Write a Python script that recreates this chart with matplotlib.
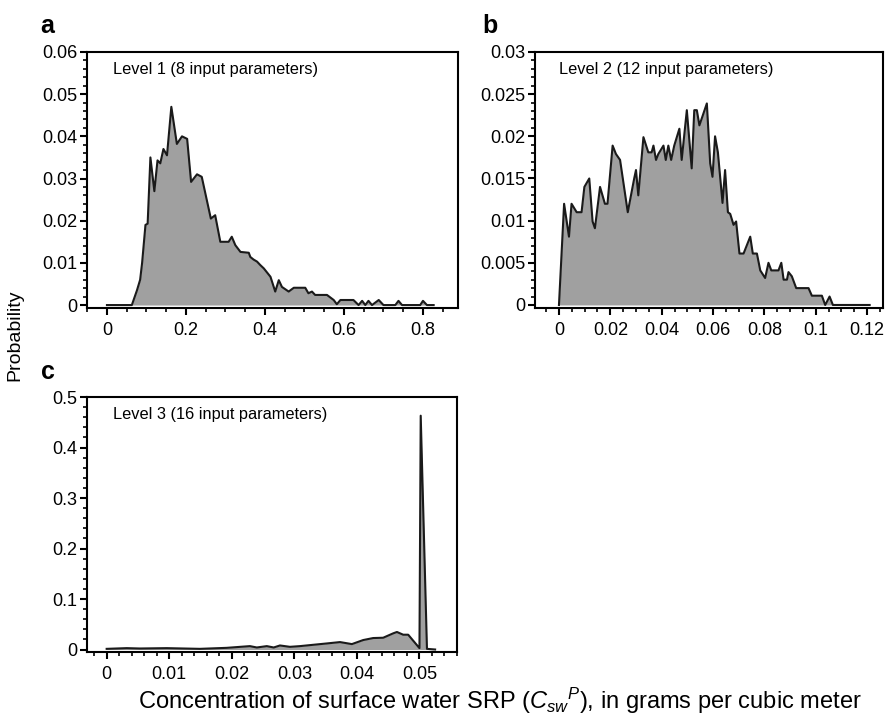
import matplotlib
matplotlib.use("Agg")
import matplotlib.pyplot as plt
from matplotlib.ticker import MultipleLocator, FuncFormatter

plt.rcParams['font.family'] = ['Liberation Sans', 'DejaVu Sans']
plt.rcParams['mathtext.fontset'] = 'custom'
plt.rcParams['mathtext.rm'] = 'Liberation Sans'
plt.rcParams['mathtext.it'] = 'Liberation Sans:italic'

# Level 1 (8 input parameters)
level1_x = [0, 0.063, 0.076, 0.084, 0.089, 0.0975, 0.103, 0.11, 0.12, 0.128, 0.135, 0.143,
            0.152, 0.163, 0.177, 0.19, 0.203, 0.213, 0.228, 0.24, 0.253, 0.263, 0.274, 0.287,
            0.308, 0.316, 0.325, 0.338, 0.359, 0.363, 0.371, 0.38, 0.388, 0.397, 0.414, 0.426,
            0.435, 0.443, 0.46, 0.473, 0.502, 0.51, 0.519, 0.527, 0.557, 0.574, 0.582, 0.591,
            0.624, 0.637, 0.646, 0.654, 0.662, 0.671, 0.688, 0.7, 0.73, 0.738, 0.747, 0.793,
            0.8, 0.81, 0.827]
level1_y = [0, 0, 0.0035, 0.006, 0.01, 0.019, 0.0193, 0.035, 0.027, 0.0343, 0.0336, 0.037,
            0.0355, 0.047, 0.0382, 0.04, 0.0394, 0.0292, 0.031, 0.0304, 0.0248, 0.0205, 0.0213,
            0.015, 0.015, 0.0162, 0.0142, 0.0126, 0.0124, 0.0114, 0.0108, 0.0103, 0.0095, 0.0087,
            0.0067, 0.0032, 0.0059, 0.0043, 0.0032, 0.0041, 0.0041, 0.0028, 0.0032, 0.0024,
            0.0024, 0.0012, 0.0002, 0.0012, 0.0012, 0, 0.001, 0, 0.001, 0, 0.0012, 0, 0, 0.001,
            0, 0, 0.001, 0, 0]

# Level 2 (12 input parameters)
level2_x = [0, 0.002, 0.0039, 0.0049, 0.0069, 0.0088, 0.0099, 0.0118, 0.0131, 0.014, 0.016,
            0.0179, 0.0189, 0.0209, 0.0222, 0.0238, 0.0268, 0.0293, 0.03, 0.0309, 0.0329,
            0.0348, 0.0361, 0.0368, 0.0378, 0.0387, 0.0407, 0.0416, 0.0426, 0.0437, 0.0449,
            0.0469, 0.0478, 0.0498, 0.0517, 0.0527, 0.0537, 0.0547, 0.0576, 0.0589, 0.0598,
            0.0608, 0.0619, 0.0637, 0.0647, 0.0658, 0.0667, 0.068, 0.069, 0.0703, 0.0719,
            0.0745, 0.0755, 0.0771, 0.0784, 0.0803, 0.0816, 0.0827, 0.0855, 0.0866, 0.0875,
            0.0888, 0.0894, 0.0907, 0.0924, 0.0972, 0.0985, 0.1024, 0.1037, 0.1054, 0.1067, 0.121]
level2_y = [0, 0.012, 0.0081, 0.012, 0.011, 0.011, 0.014, 0.015, 0.0099, 0.0091, 0.014, 0.012,
            0.012, 0.0189, 0.0179, 0.0172, 0.011, 0.015, 0.016, 0.013, 0.0199, 0.0181, 0.0181,
            0.0189, 0.0172, 0.0179, 0.0189, 0.0172, 0.0189, 0.0172, 0.0189, 0.0209, 0.0172,
            0.0231, 0.0162, 0.0231, 0.0231, 0.0213, 0.0239, 0.0168, 0.0152, 0.02, 0.0181,
            0.0121, 0.016, 0.011, 0.0108, 0.0095, 0.0099, 0.0061, 0.0061, 0.0081, 0.0061,
            0.0061, 0.0041, 0.0032, 0.005, 0.0041, 0.0041, 0.005, 0.003, 0.003, 0.0039, 0.0034,
            0.002, 0.002, 0.0011, 0.0011, 0, 0.001, 0, 0]

# Level 3 (16 input parameters)
level3_x = [0, 0.0032, 0.0053, 0.0096, 0.0149, 0.0192, 0.0229, 0.024, 0.0256, 0.0267, 0.0277,
            0.0293, 0.0309, 0.033, 0.0352, 0.0373, 0.0392, 0.041, 0.0426, 0.0442, 0.0458,
            0.0464, 0.0474, 0.0482, 0.05, 0.0502, 0.0512, 0.0525]
level3_y = [0.0013, 0.0027, 0.002, 0.0027, 0.0013, 0.0033, 0.0067, 0.004, 0.0067, 0.004, 0.008,
            0.0053, 0.0067, 0.0093, 0.012, 0.0147, 0.0107, 0.0187, 0.0227, 0.0233, 0.032,
            0.0347, 0.0293, 0.0293, 0.0027, 0.463, 0.0013, 0.0]

panels = [
    dict(x=level1_x, y=level1_y, label='a', lx=-0.125, text='Level 1 (8 input parameters)',
         rect=[0.0976, 0.5722, 0.4164, 0.3556], xlim=(-0.0506, 0.8886), ylim=(-0.0007, 0.06),
         xmaj=0.2, xmin=0.05, ymaj=0.01, ymin=0.002),
    dict(x=level2_x, y=level2_y, label='b', lx=-0.15, text='Level 2 (12 input parameters)',
         rect=[0.6004, 0.5722, 0.3906, 0.3556], xlim=(-0.00935, 0.1262), ylim=(-0.00036, 0.03),
         xmaj=0.02, xmin=0.005, ymaj=0.005, ymin=0.001),
    dict(x=level3_x, y=level3_y, label='c', lx=-0.125, text='Level 3 (16 input parameters)',
         rect=[0.0976, 0.0944, 0.4153, 0.3542], xlim=(-0.00315, 0.056), ylim=(-0.005, 0.5),
         xmaj=0.01, xmin=0.002, ymaj=0.1, ymin=0.02),
]

fmt = FuncFormatter(lambda v, pos: '0' if abs(v) < 1e-12 else f"{v:.4g}")

fig = plt.figure(figsize=(8.91, 7.2), dpi=100)
for p in panels:
    ax = fig.add_axes(p['rect'])
    ax.fill_between(p['x'], p['y'], 0, color='#a0a0a0', lw=0)
    ax.plot(p['x'], p['y'], color='#1a1a1a', lw=1.5)
    ax.set_xlim(*p['xlim'])
    ax.set_ylim(*p['ylim'])
    ax.xaxis.set_major_locator(MultipleLocator(p['xmaj']))
    ax.xaxis.set_minor_locator(MultipleLocator(p['xmin']))
    ax.yaxis.set_major_locator(MultipleLocator(p['ymaj']))
    ax.yaxis.set_minor_locator(MultipleLocator(p['ymin']))
    ax.xaxis.set_major_formatter(fmt)
    ax.yaxis.set_major_formatter(fmt)
    ax.tick_params(which='major', direction='out', length=5, width=1.5, labelsize=13, pad=2)
    ax.tick_params(axis='x', which='major', pad=5)
    ax.tick_params(which='minor', direction='out', length=3, width=1.2)
    ax.tick_params(top=False, right=False, which='both')
    for s in ax.spines.values():
        s.set_linewidth(1.5)
    ax.text(0.07, 0.93, p['text'], transform=ax.transAxes, fontsize=11.8, va='center', ha='left')
    ax.text(p['lx'], 1.10, p['label'], transform=ax.transAxes, fontsize=18,
            fontweight='bold', va='center', ha='left')

fig.text(0.017, 0.535, 'Probability', rotation=90, fontsize=14, va='center', ha='center')
fig.text(0.561, 0.027, r'Concentration of surface water SRP ($C_{sw}{}^{P}$), in grams per cubic meter',
         fontsize=17, va='center', ha='center')

fig.savefig('out.png', dpi=100)
